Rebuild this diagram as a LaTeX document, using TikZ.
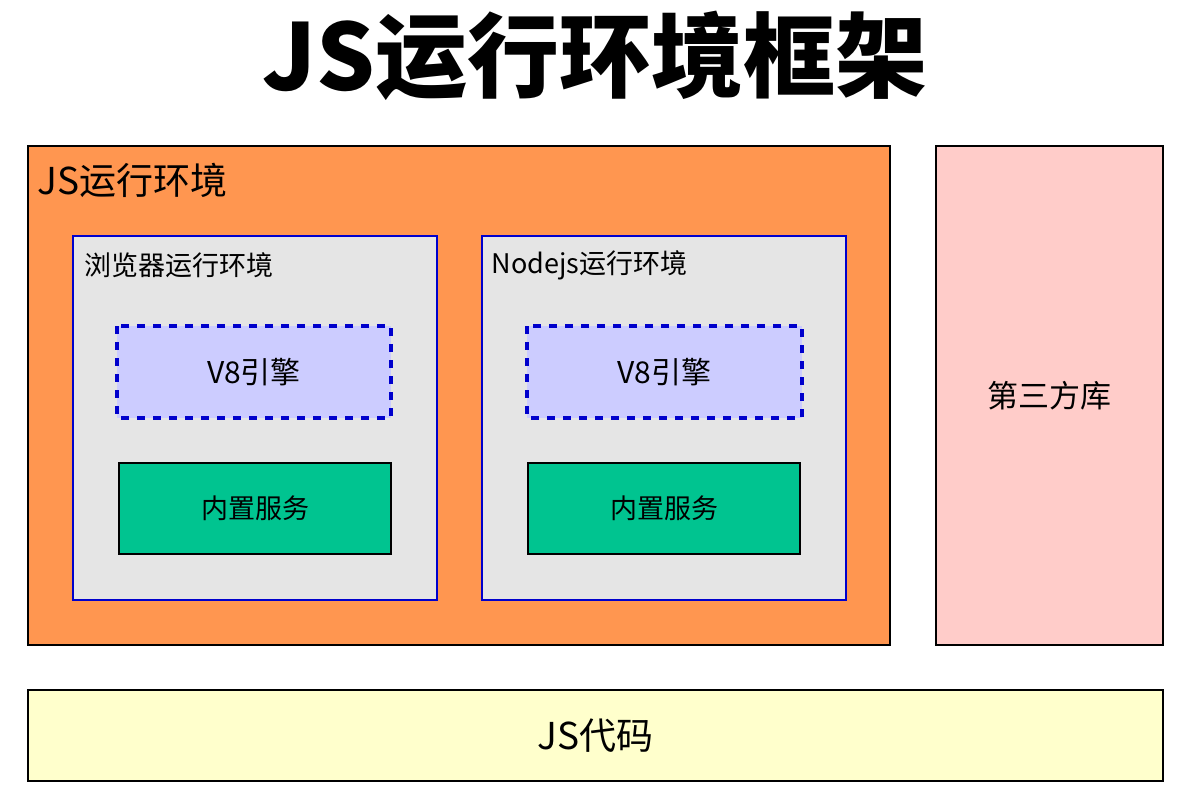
\documentclass[tikz,border=0pt]{standalone}
\usepackage{fontspec}
\setmainfont{Noto Sans CJK SC}
\begin{document}
\begin{tikzpicture}[x=1pt,y=-1pt,
  box/.style={draw=black,line width=1.2pt},
  env/.style={draw=blue!80!black,line width=1.2pt,fill=black!10},
  eng/.style={draw=blue!80!black,line width=4pt,dash pattern=on 8pt off 8pt,fill=blue!20},
  lbl/.style={font=\fontsize{27}{30}\selectfont}]
\useasboundingbox[fill=white] (0,0) rectangle (1183,804);
\node (title) at (595,56) {\fontsize{92}{100}\selectfont\bfseries JS运行环境框架};
\draw[box,fill={rgb,255:red,255;green,150;blue,80}] (28,146) rectangle (890,645);
\node[anchor=west,font=\fontsize{37}{40}\selectfont] (jsenv) at (34,180) {JS运行环境};
\draw[env] (73,236) rectangle (437,600);
\node[anchor=west,lbl] (b) at (81,265) {浏览器运行环境};
\draw[eng] (117,326) rectangle node[font=\fontsize{30}{33}\selectfont] (v1) {V8引擎} (391,418);
\draw[box,fill={rgb,255:red,0;green,196;blue,144}] (119,463) rectangle node[lbl] (s1) {内置服务} (391,554);
\draw[env] (482,236) rectangle (846,600);
\node[anchor=west,lbl] (n) at (488,265) {Nodejs运行环境};
\draw[eng] (527,326) rectangle node[font=\fontsize{30}{33}\selectfont] (v2) {V8引擎} (802,418);
\draw[box,fill={rgb,255:red,0;green,196;blue,144}] (528,463) rectangle node[lbl] (s2) {内置服务} (800,554);
\draw[box,fill={rgb,255:red,255;green,204;blue,201}] (936,146) rectangle node[font=\fontsize{31}{34}\selectfont] (lib) {第三方库} (1163,645);
\draw[box,fill={rgb,255:red,255;green,255;blue,204}] (28,690) rectangle node[font=\fontsize{37}{40}\selectfont] (code) {JS代码} (1163,781);
\end{tikzpicture}
\end{document}
